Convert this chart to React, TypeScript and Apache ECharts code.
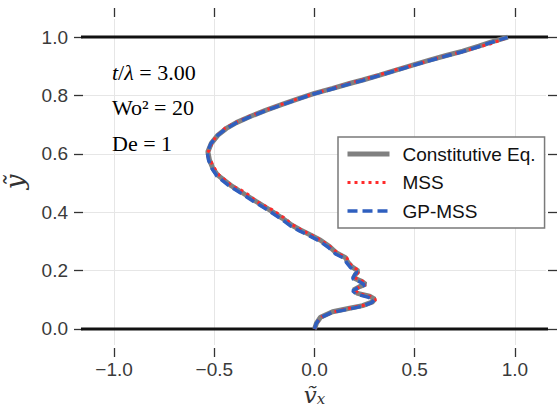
import React, { useEffect, useRef } from 'react';
import * as echarts from 'echarts';

const xTicks = [-1.0, -0.5, 0.0, 0.5, 1.0];
const yTicks = [0.0, 0.2, 0.4, 0.6, 0.8, 1.0];
const wallLevels = [0, 1];
const wallSpan = [-1.2, 1.22];

const seriesNames = ['Constitutive Eq.', 'MSS', 'GP-MSS'];

const constitutive = [
  [0, 0], [0.01, 0.02], [0.03, 0.04], [0.09, 0.059], [0.175, 0.071], [0.24, 0.08], [0.29, 0.093],
  [0.3, 0.102], [0.275, 0.112], [0.215, 0.122], [0.195, 0.134], [0.225, 0.145], [0.255, 0.153],
  [0.235, 0.163], [0.195, 0.175], [0.205, 0.188], [0.218, 0.198], [0.185, 0.214], [0.165, 0.23],
  [0.155, 0.244], [0.11, 0.26], [0.075, 0.282], [0.03, 0.304], [-0.02, 0.322], [-0.07, 0.339],
  [-0.115, 0.356], [-0.16, 0.379], [-0.224, 0.408], [-0.29, 0.436], [-0.356, 0.465], [-0.42, 0.493],
  [-0.483, 0.527], [-0.507, 0.55], [-0.524, 0.579], [-0.532, 0.607], [-0.515, 0.636], [-0.482, 0.664],
  [-0.44, 0.687], [-0.39, 0.707], [-0.324, 0.727], [-0.241, 0.75], [-0.158, 0.77], [-0.075, 0.79],
  [0, 0.807], [0.091, 0.824], [0.175, 0.841], [0.241, 0.853], [0.325, 0.87], [0.407, 0.887],
  [0.49, 0.904], [0.574, 0.921], [0.657, 0.937], [0.74, 0.952], [0.82, 0.969], [0.88, 0.983],
  [0.965, 1.0],
];

const mss = [
  [0, 0], [0.012, 0.021], [0.035, 0.041], [0.095, 0.058], [0.18, 0.072], [0.245, 0.081], [0.295, 0.092],
  [0.305, 0.101], [0.28, 0.111], [0.22, 0.121], [0.2, 0.135], [0.23, 0.146], [0.258, 0.152],
  [0.24, 0.164], [0.2, 0.176], [0.21, 0.187], [0.225, 0.199], [0.19, 0.213], [0.17, 0.229],
  [0.162, 0.243], [0.118, 0.259], [0.08, 0.281], [0.035, 0.303], [-0.012, 0.321], [-0.062, 0.338],
  [-0.11, 0.357], [-0.15, 0.38], [-0.215, 0.41], [-0.285, 0.435], [-0.345, 0.468], [-0.415, 0.492],
  [-0.478, 0.529], [-0.5, 0.552], [-0.52, 0.578], [-0.54, 0.6], [-0.525, 0.612], [-0.512, 0.638],
  [-0.49, 0.66], [-0.445, 0.689], [-0.385, 0.71], [-0.32, 0.73], [-0.235, 0.752], [-0.15, 0.773],
  [-0.068, 0.792], [0.005, 0.808], [0.095, 0.826], [0.18, 0.843], [0.245, 0.855], [0.33, 0.872],
  [0.41, 0.889], [0.5, 0.905], [0.58, 0.922], [0.66, 0.937], [0.745, 0.951], [0.81, 0.965],
  [0.87, 0.975], [0.93, 0.99], [0.965, 1.0],
];

const gpMss = [
  [0, 0], [0.008, 0.018], [0.028, 0.038], [0.085, 0.056], [0.17, 0.068], [0.235, 0.077], [0.285, 0.09],
  [0.297, 0.1], [0.27, 0.108], [0.21, 0.119], [0.19, 0.131], [0.22, 0.142], [0.25, 0.15],
  [0.23, 0.16], [0.19, 0.172], [0.2, 0.185], [0.212, 0.195], [0.18, 0.21], [0.16, 0.227],
  [0.15, 0.241], [0.105, 0.257], [0.07, 0.279], [0.025, 0.301], [-0.025, 0.319], [-0.075, 0.336],
  [-0.12, 0.353], [-0.165, 0.376], [-0.228, 0.405], [-0.295, 0.433], [-0.36, 0.462], [-0.425, 0.49],
  [-0.487, 0.524], [-0.51, 0.548], [-0.528, 0.577], [-0.535, 0.605], [-0.518, 0.634], [-0.485, 0.662],
  [-0.443, 0.685], [-0.393, 0.705], [-0.328, 0.725], [-0.245, 0.748], [-0.162, 0.768], [-0.08, 0.788],
  [-0.004, 0.805], [0.087, 0.822], [0.172, 0.839], [0.238, 0.851], [0.322, 0.868], [0.405, 0.885],
  [0.488, 0.902], [0.572, 0.919], [0.655, 0.935], [0.738, 0.95], [0.818, 0.967], [0.878, 0.981],
  [0.963, 0.999],
];

const annotations = ['{i|t}{n|/}{i|λ}{n| = 3.00}', '{n|Wo² = 20}', '{n|De = 1}'];

const fmt = (v: number) => v.toFixed(1).replace('-', '\u2212');

export default function App() {
  const ref = useRef<HTMLDivElement>(null);
  useEffect(() => {
    if (!ref.current) return;
    const chart = echarts.init(ref.current, undefined, { renderer: 'svg' });
    const tickStyle = { color: '#333', width: 1.3 };
    const labelFont = { fontFamily: 'Liberation Sans', fontSize: 19, color: '#3a3a3a' };
    const serifI = { fontFamily: 'DejaVu Serif', fontStyle: 'italic' };
    const annFont = { fontFamily: 'Liberation Serif', fontSize: 22, color: '#222' };
    const xMin = -1.155, xMax = 1.155, yMin = -0.055, yMax = 1.062;
    const noLine = { show: false, onZero: false };
    chart.setOption({
      animation: false,
      backgroundColor: '#fff',
      grid: { left: 83, right: 11, top: 19, bottom: 65, outerBoundsMode: 'none', containLabel: false },
      xAxis: [
        {
          type: 'value', min: xMin, max: xMax, position: 'bottom', offset: 3,
          axisLine: noLine,
          axisTick: { show: true, length: 9, customValues: xTicks, lineStyle: tickStyle },
          axisLabel: { customValues: xTicks, margin: 12, formatter: fmt, ...labelFont },
          splitLine: { show: true, lineStyle: { color: '#e6e6e6', width: 1 } },
          name: '{v|ṽ}{s|x}', nameLocation: 'middle', nameGap: 27,
          nameTextStyle: {
            rich: {
              v: { ...serifI, fontSize: 23, color: '#333', lineHeight: 26 },
              s: { ...serifI, fontSize: 15, color: '#333', lineHeight: 26, padding: [7, 0, 0, 0] },
            },
          },
        },
        {
          type: 'value', min: xMin, max: xMax, position: 'top', offset: 2,
          axisLine: noLine,
          axisTick: { show: true, length: 9, customValues: xTicks, lineStyle: tickStyle },
          axisLabel: { show: false },
          splitLine: { show: false },
        },
      ],
      yAxis: [
        {
          type: 'value', min: yMin, max: yMax, position: 'left', offset: 0,
          axisLine: noLine,
          axisTick: { show: true, length: 9, customValues: yTicks, lineStyle: tickStyle },
          axisLabel: { customValues: yTicks, margin: 15, formatter: fmt, ...labelFont },
          splitLine: { show: true, lineStyle: { color: '#e6e6e6', width: 1 } },
          name: '{v|ỹ}', nameLocation: 'middle', nameGap: 55, nameRotate: 90,
          nameTextStyle: { rich: { v: { ...serifI, fontSize: 26, color: '#333' } } },
        },
        {
          type: 'value', min: yMin, max: yMax, position: 'right', offset: 2,
          axisLine: noLine,
          axisTick: { show: true, length: 9, customValues: yTicks, lineStyle: tickStyle },
          axisLabel: { show: false },
          splitLine: { show: false },
        },
      ],
      legend: {
        orient: 'vertical', left: 338, top: 137,
        padding: [6, 9, 6, 7],
        itemWidth: 42, itemHeight: 14, itemGap: 6.5,
        backgroundColor: '#fff', borderColor: '#7a7a7a', borderWidth: 1.5,
        textStyle: { fontFamily: 'Liberation Sans', fontSize: 19, color: '#111', lineHeight: 22, padding: [0, 0, 0, 8] },
        itemStyle: { opacity: 0 },
        data: [
          { name: seriesNames[0], lineStyle: { width: 5 } },
          { name: seriesNames[1], lineStyle: { width: 3 } },
          { name: seriesNames[2], lineStyle: { width: 3.5 } },
        ],
      },
      graphic: annotations.map((t, i) => ({
        type: 'text', x: 112, y: 72 + i * 35.5, silent: true, z: 10,
        style: {
          text: t, verticalAlign: 'middle',
          rich: { i: { ...annFont, fontStyle: 'italic' }, n: { ...annFont } },
        },
      })),
      series: [
        ...wallLevels.map((lv) => ({
          type: 'line', name: 'wall' + lv, data: wallSpan.map((x) => [x, lv]), clip: false,
          symbol: 'none', silent: true, z: 1,
          lineStyle: { color: '#111', width: 3 },
        })),
        {
          type: 'line', name: seriesNames[0], data: constitutive, symbol: 'none', z: 2,
          lineStyle: { color: '#808080', width: 5 }, itemStyle: { color: '#808080' },
        },
        {
          type: 'line', name: seriesNames[1], data: mss, symbol: 'none', z: 3,
          lineStyle: { color: '#ff2b2b', width: 3, type: [3, 4] }, itemStyle: { color: '#ff2b2b' },
        },
        {
          type: 'line', name: seriesNames[2], data: gpMss, symbol: 'none', z: 4,
          lineStyle: { color: '#2f5fbf', width: 3.5, type: [10, 5] }, itemStyle: { color: '#2f5fbf' },
        },
      ],
    });
    return () => chart.dispose();
  }, []);
  return <div ref={ref} style={{ position: 'absolute', left: 0, top: 0, width: 557, height: 410 }} />;
}
